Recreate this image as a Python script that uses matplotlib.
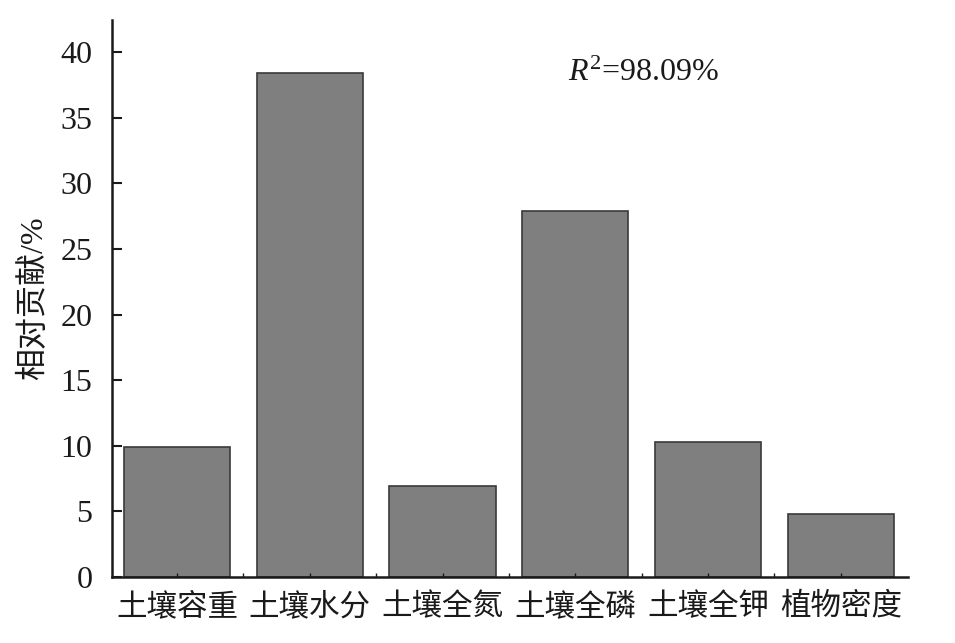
import matplotlib
matplotlib.use("Agg")
import matplotlib.pyplot as plt
import numpy as np

# 因子与相对贡献
factors = ["土壤容重", "土壤水分", "土壤全氮", "土壤全磷", "土壤全钾", "植物密度"]
contrib = [9.9, 38.4, 6.9, 27.9, 10.3, 4.8]
yticks = [0, 5, 10, 15, 20, 25, 30, 35, 40]

cjk = ["Noto Sans CJK SC", "DejaVu Sans"]
serif = "Liberation Serif"

plt.rcParams["mathtext.fontset"] = "custom"
plt.rcParams["mathtext.rm"] = "Liberation Serif"
plt.rcParams["mathtext.it"] = "Liberation Serif:italic"

fig = plt.figure(figsize=(9.55, 6.43), dpi=100)
ax = fig.add_axes([0.1173, 0.1026, 0.834, 0.8663])

x = np.arange(len(factors))
ax.bar(x, contrib, width=0.8, color="#7f7f7f", edgecolor="#3a3a3a", linewidth=1.2)

ax.set_xlim(-0.49, 5.51)
ax.set_ylim(0, 42.44)
ax.set_yticks(yticks)
ax.set_yticklabels([str(v) for v in yticks], fontfamily=serif, fontsize=23)
ax.set_xticks(x)
ax.set_xticklabels(factors, fontfamily=cjk, fontsize=22)
ax.set_xticks(np.arange(-0.5, 5.5, 1.0)[1:], minor=True)

ax.tick_params(axis="y", direction="in", length=7, width=1.5, pad=14, colors="#1a1a1a")
ax.tick_params(axis="x", which="both", direction="in", length=3, width=1, pad=10, colors="#1a1a1a")

for s in ["top", "right"]:
    ax.spines[s].set_visible(False)
for s in ["left", "bottom"]:
    ax.spines[s].set_linewidth(1.8)
    ax.spines[s].set_color("#1a1a1a")

ax.set_ylabel("相对贡献/%", fontfamily=[serif, "Noto Sans CJK SC"], fontsize=23,
              labelpad=8, color="#1a1a1a")

ax.text(0.572, 0.905, r"$\mathit{R}^{2}$=98.09%", transform=ax.transAxes,
        fontfamily=serif, fontsize=23, ha="left", va="center", color="#1a1a1a")

fig.savefig("out.png", dpi=100)
